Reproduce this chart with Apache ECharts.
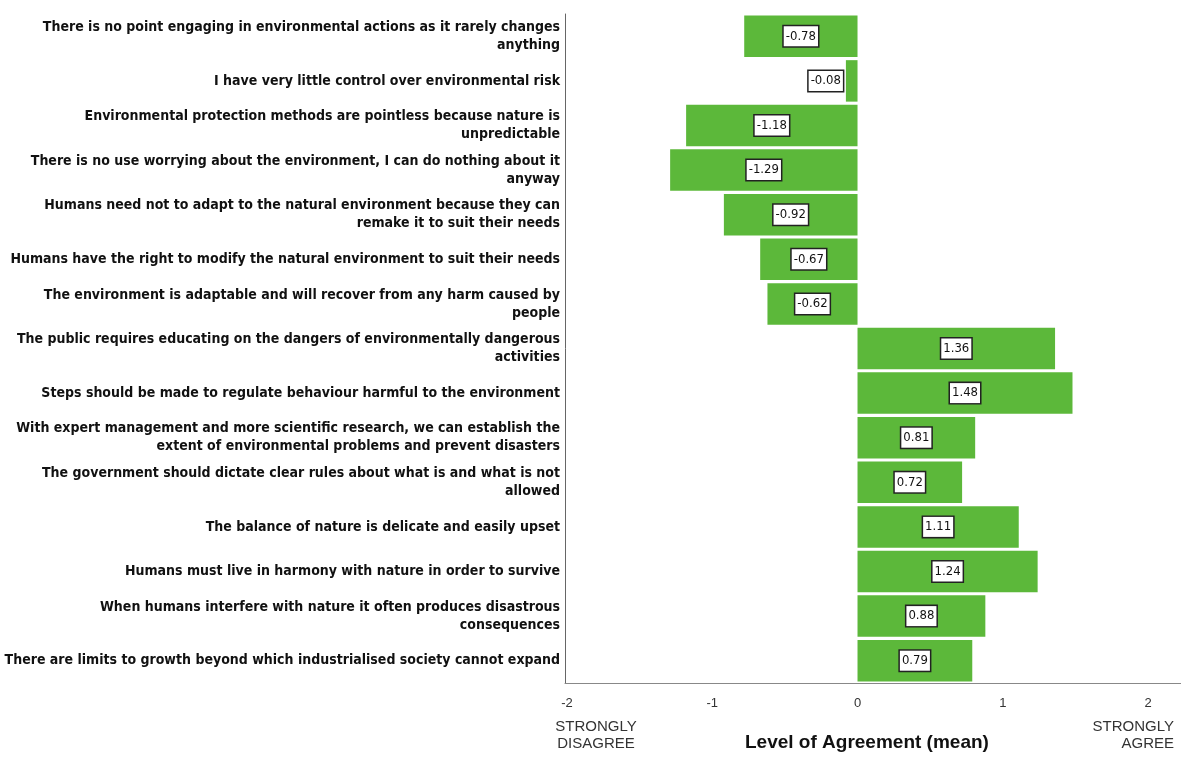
<!DOCTYPE html>
<html>
<head>
<meta charset="utf-8">
<script src="https://cdn.jsdelivr.net/npm/echarts@6/dist/echarts.min.js"></script>
<style>
  html, body { margin: 0; padding: 0; background: #fff; }
  #chart { width: 1181px; height: 758px; }
</style>
</head>
<body>
<div id="chart"></div>
<script>
// statements, top to bottom
const statements = [
  'There is no point engaging in environmental actions as it rarely changes\nanything',
  'I have very little control over environmental risk',
  'Environmental protection methods are pointless because nature is\nunpredictable',
  'There is no use worrying about the environment, I can do nothing about it\nanyway',
  'Humans need not to adapt to the natural environment because they can\nremake it to suit their needs',
  'Humans have the right to modify the natural environment to suit their needs',
  'The environment is adaptable and will recover from any harm caused by\npeople',
  'The public requires educating on the dangers of environmentally dangerous\nactivities',
  'Steps should be made to regulate behaviour harmful to the environment',
  'With expert management and more scientific research, we can establish the\nextent of environmental problems and prevent disasters',
  'The government should dictate clear rules about what is and what is not\nallowed',
  'The balance of nature is delicate and easily upset',
  'Humans must live in harmony with nature in order to survive',
  'When humans interfere with nature it often produces disastrous\nconsequences',
  'There are limits to growth beyond which industrialised society cannot expand'
];

// mean agreement
const meanScores = [-0.78, -0.08, -1.18, -1.29, -0.92, -0.67, -0.62,
  1.36, 1.48, 0.81, 0.72, 1.11, 1.24, 0.88, 0.79];

const xTicks = [-2, -1, 0, 1, 2];

const FONT = '"DejaVu Sans Condensed", "Liberation Sans Narrow", Arial, sans-serif';
const FONT2 = '"Liberation Sans", Arial, sans-serif';

const chart = echarts.init(document.getElementById('chart'));

const barData = meanScores.map(function (v) {
  // tiny bar: put the label outside on the left
  if (Math.abs(v) < 0.2) {
    return { value: v, label: { position: 'left', distance: 3 } };
  }
  return v;
});

chart.setOption({
  animation: false,
  grid: { left: 565, right: 0, top: 14, bottom: 75, containLabel: false, outerBoundsMode: 'none' },
  xAxis: {
    type: 'value',
    min: -2.0138,
    max: 2.227,
    axisLine: { show: true, lineStyle: { color: '#888', width: 1 } },
    axisTick: { show: false },
    splitLine: { show: false },
    axisLabel: {
      customValues: xTicks,
      formatter: function (v) { return String(Math.round(v)); },
      color: '#333', fontSize: 13, fontFamily: FONT2, margin: 14
    }
  },
  yAxis: {
    type: 'category',
    inverse: true,
    data: statements,
    axisLine: { show: true, onZero: false, lineStyle: { color: '#666', width: 1 } },
    axisTick: { show: false },
    axisLabel: {
      color: '#111', fontSize: 14, fontWeight: 'bold', fontFamily: FONT,
      lineHeight: 18, margin: 5, align: 'right'
    }
  },
  series: [{
    type: 'bar',
    data: barData,
    barCategoryGap: '7%',
    itemStyle: { color: '#5cb83a' },
    label: {
      show: true,
      position: 'inside',
      formatter: function (p) { return p.value.toFixed(2); },
      color: '#111', fontSize: 13, fontFamily: FONT,
      backgroundColor: '#fff', borderColor: '#222', borderWidth: 1.5,
      padding: [4, 2, 3, 2]
    }
  }],
  graphic: [
    { type: 'text', x: 596, y: 718,
      style: { text: 'STRONGLY\nDISAGREE', fill: '#333', font: '15px ' + FONT2, lineHeight: 17, align: 'center' } },
    { type: 'text', x: 1174, y: 718,
      style: { text: 'STRONGLY\nAGREE', fill: '#333', font: '15px ' + FONT2, lineHeight: 17, align: 'right' } },
    { type: 'text', x: 745, y: 733,
      style: { text: 'Level of Agreement (mean)', fill: '#111', font: 'bold 19px ' + FONT2 } }
  ]
});
</script>
</body>
</html>
